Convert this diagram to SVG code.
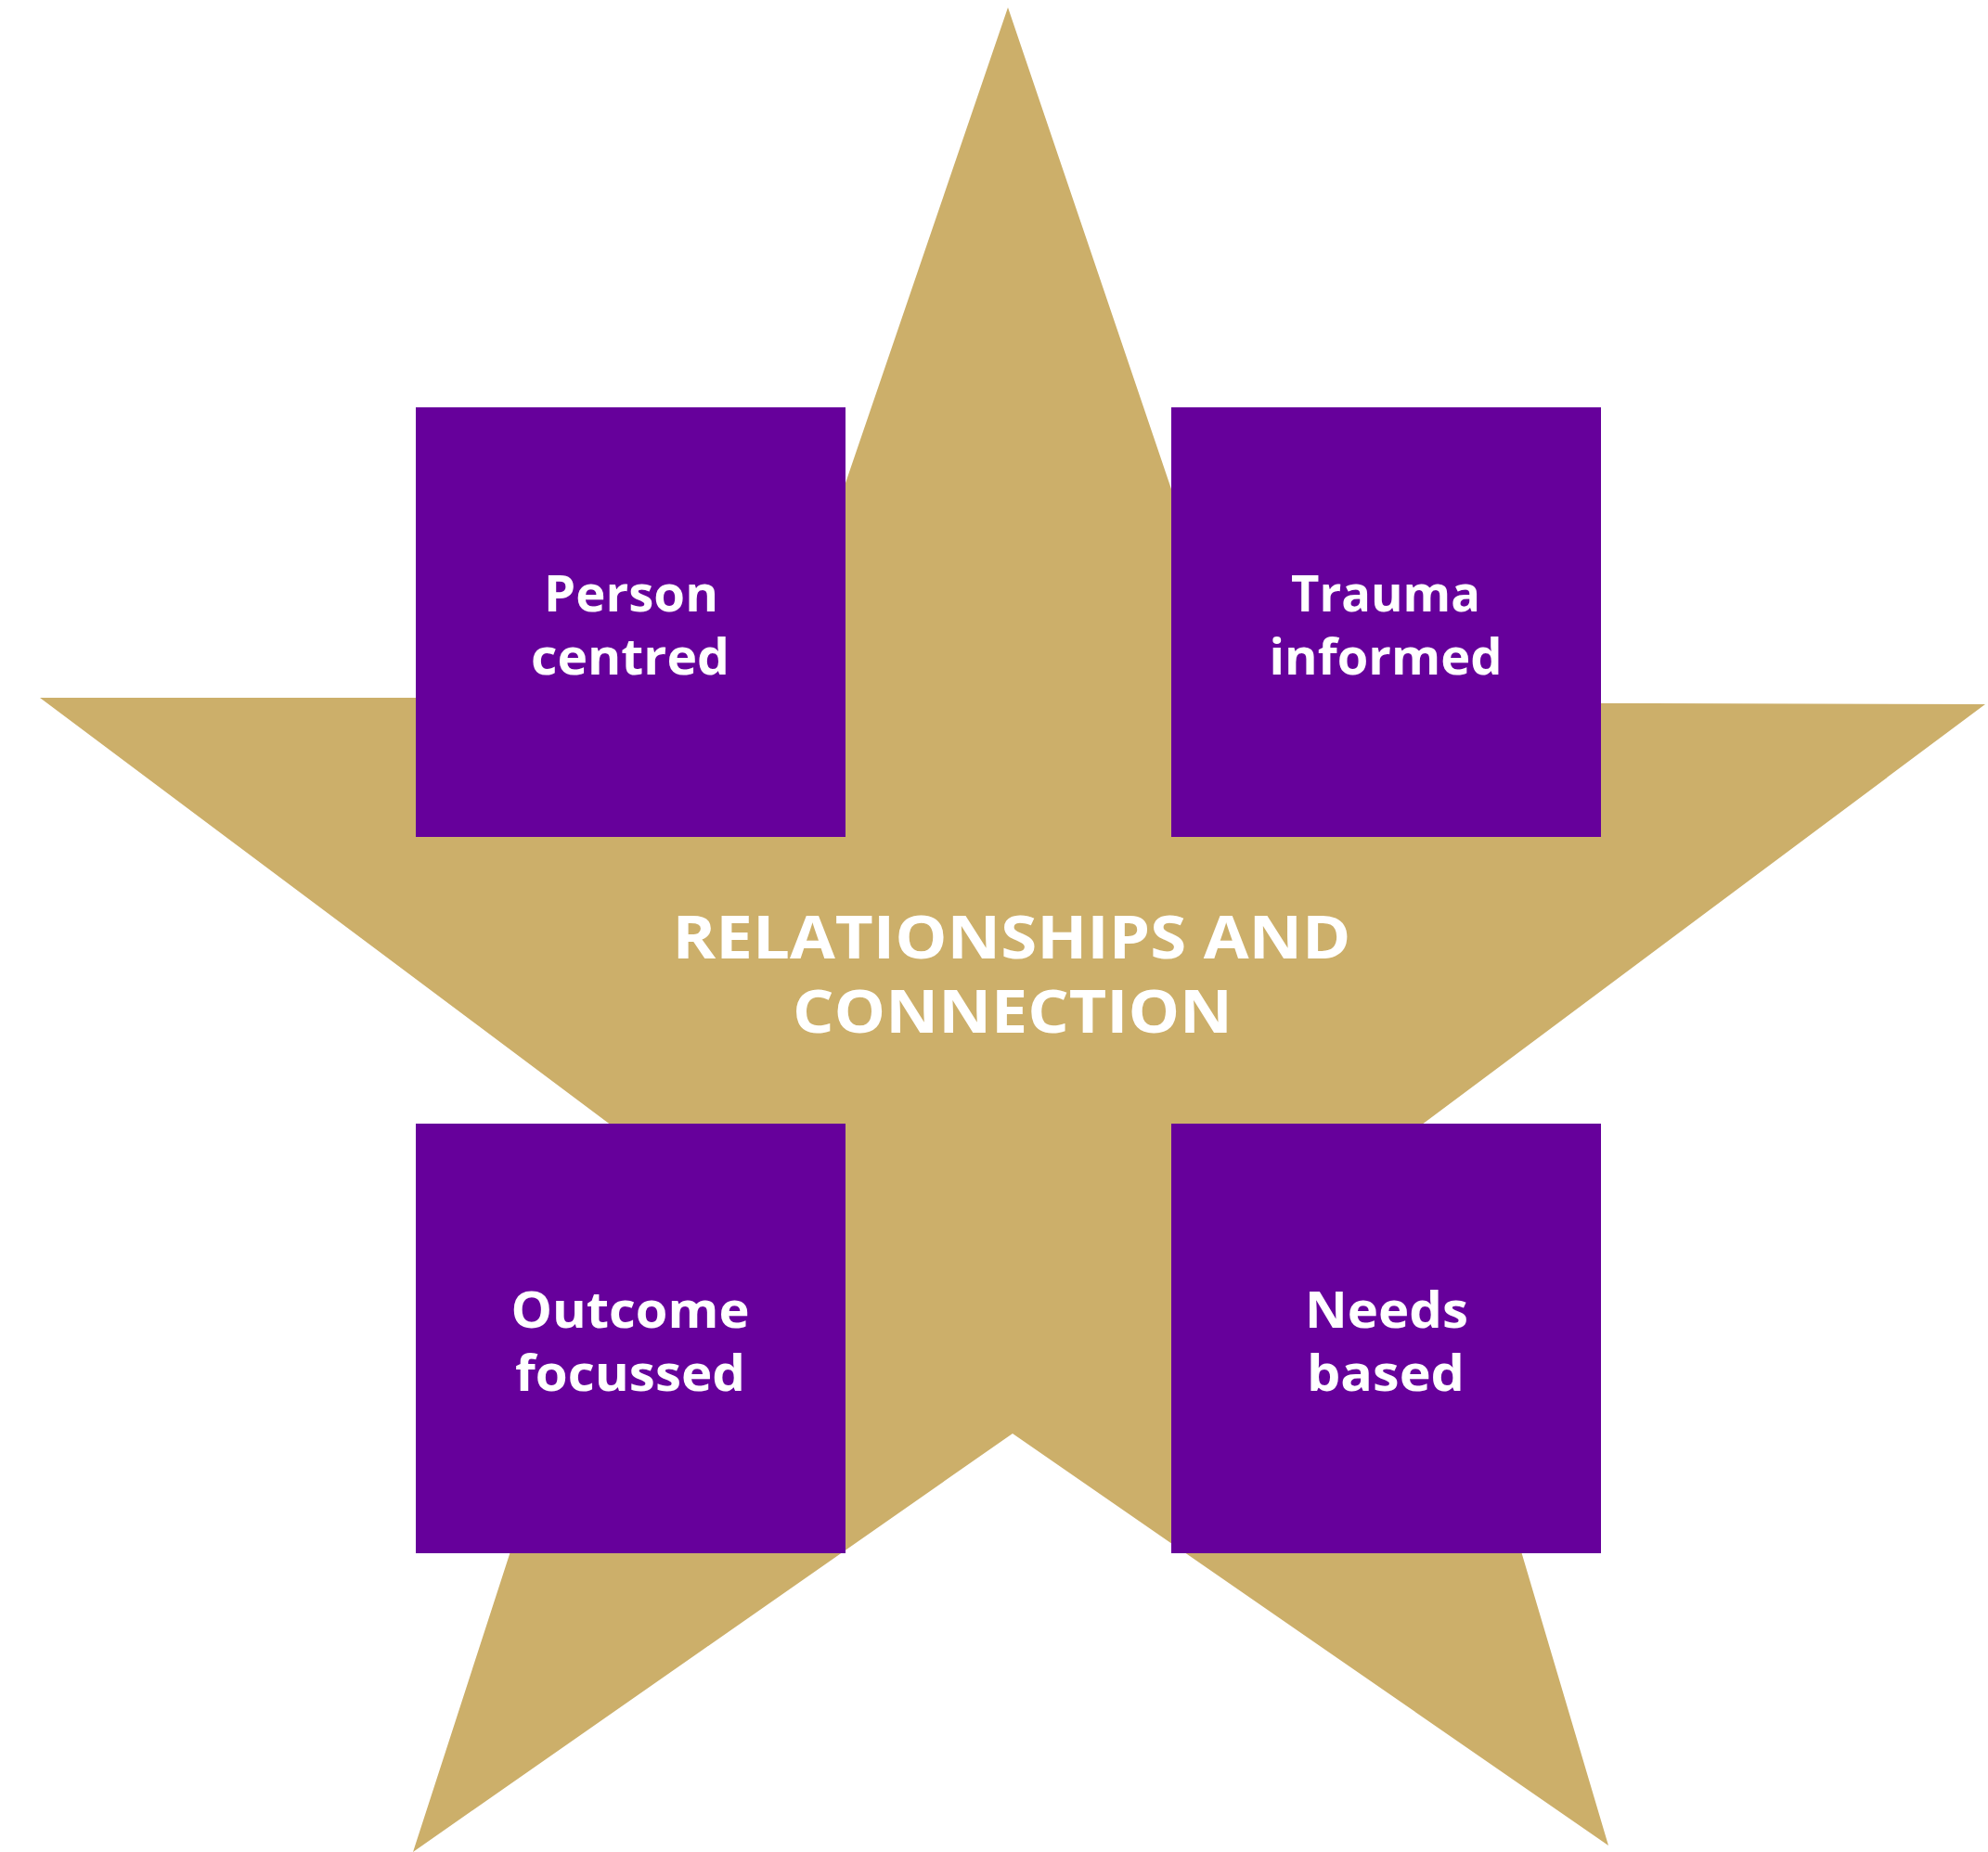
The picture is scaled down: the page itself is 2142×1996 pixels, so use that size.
<svg xmlns="http://www.w3.org/2000/svg" width="2142" height="1996" viewBox="0 0 2142 1996">
<style>
.star{fill:#CCAF6A}
.box{fill:#66009B}
.lbl{font-family:"Open Sans","Noto Sans",sans-serif;font-weight:700;font-size:54px;fill:#FFFFFF;text-anchor:middle}
.ctr{font-family:"Open Sans","Noto Sans",sans-serif;font-weight:700;font-size:65px;fill:#FFFFFF;text-anchor:middle}
</style>
<rect width="2142" height="1996" fill="#FFFFFF"/>
<g id="star">
<polygon class="star" points="1086,8 1340,757 2139,759 1508,1230 1733,1989 1091,1545 445,1996 691,1237 43,752 832,752"/>
</g>
<g id="connectors"></g>
<g id="center">
<text class="ctr" x="1090" y="1033" textLength="731" lengthAdjust="spacingAndGlyphs">RELATIONSHIPS AND</text>
<text class="ctr" x="1091" y="1113" textLength="474" lengthAdjust="spacingAndGlyphs">CONNECTION</text>
</g>
<g id="person-centred">
<rect class="box" x="448" y="439" width="463" height="463"/>
<text class="lbl" x="680" y="659" textLength="188" lengthAdjust="spacingAndGlyphs">Person</text>
<text class="lbl" x="679" y="727" textLength="214" lengthAdjust="spacingAndGlyphs">centred</text>
</g>
<g id="trauma-informed">
<rect class="box" x="1262" y="439" width="463" height="463"/>
<text class="lbl" x="1493" y="659" textLength="204" lengthAdjust="spacingAndGlyphs">Trauma</text>
<text class="lbl" x="1493" y="727" textLength="251" lengthAdjust="spacingAndGlyphs">informed</text>
</g>
<g id="outcome-focussed">
<rect class="box" x="448" y="1211" width="463" height="463"/>
<text class="lbl" x="679" y="1431" textLength="257" lengthAdjust="spacingAndGlyphs">Outcome</text>
<text class="lbl" x="679" y="1499" textLength="248" lengthAdjust="spacingAndGlyphs">focussed</text>
</g>
<g id="needs-based">
<rect class="box" x="1262" y="1211" width="463" height="463"/>
<text class="lbl" x="1494" y="1431" textLength="176" lengthAdjust="spacingAndGlyphs">Needs</text>
<text class="lbl" x="1493" y="1499" textLength="170" lengthAdjust="spacingAndGlyphs">based</text>
</g>
</svg>
